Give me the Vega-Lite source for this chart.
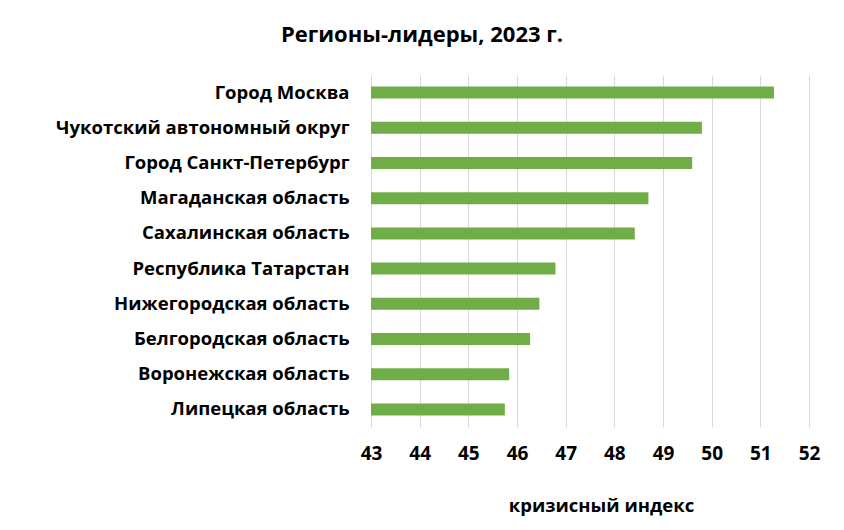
{
  "$schema": "https://vega.github.io/schema/vega-lite/v6.json",
  "autosize": "none",
  "width": 438,
  "height": 352,
  "padding": {"left": 371, "top": 75, "right": 35, "bottom": 103},
  "title": {
    "text": "Регионы-лидеры, 2023 г.",
    "anchor": "middle",
    "dx": -168,
    "offset": 28,
    "font": "Open Sans",
    "fontSize": 22,
    "fontWeight": "bold",
    "color": "black"
  },
  "data": {
    "values": [
      {"region": "Город Москва", "index": 51.28},
      {"region": "Чукотский автономный округ", "index": 49.8},
      {"region": "Город Санкт-Петербург", "index": 49.6},
      {"region": "Магаданская область", "index": 48.7},
      {"region": "Сахалинская область", "index": 48.42},
      {"region": "Республика Татарстан", "index": 46.79},
      {"region": "Нижегородская область", "index": 46.46},
      {"region": "Белгородская область", "index": 46.27},
      {"region": "Воронежская область", "index": 45.84},
      {"region": "Липецкая область", "index": 45.75}
    ]
  },
  "mark": {"type": "bar", "size": 12, "color": "#70AD47", "clip": true},
  "encoding": {
    "y": {
      "field": "region",
      "type": "nominal",
      "sort": null,
      "title": null,
      "scale": {"paddingInner": 0, "paddingOuter": 0},
      "axis": {
        "domain": false,
        "ticks": false,
        "grid": false,
        "labelPadding": 22,
        "labelLimit": 400
      }
    },
    "x": {
      "field": "index",
      "type": "quantitative",
      "title": "кризисный индекс",
      "scale": {"domain": [43, 52], "zero": false, "nice": false},
      "axis": {
        "values": [43, 44, 45, 46, 47, 48, 49, 50, 51, 52],
        "domain": false,
        "ticks": false,
        "labelFlush": false,
        "labelPadding": 17,
        "labelFontSize": 19,
        "titlePadding": 33,
        "titleX": 230,
        "gridColor": "#d9d9d9",
        "gridWidth": 1
      }
    }
  },
  "config": {
    "view": {"stroke": null},
    "axis": {
      "labelFont": "Open Sans",
      "labelFontSize": 18.5,
      "labelFontWeight": "bold",
      "labelColor": "black",
      "titleFont": "Open Sans",
      "titleFontSize": 18.5,
      "titleFontWeight": "bold",
      "titleColor": "black"
    }
  }
}
